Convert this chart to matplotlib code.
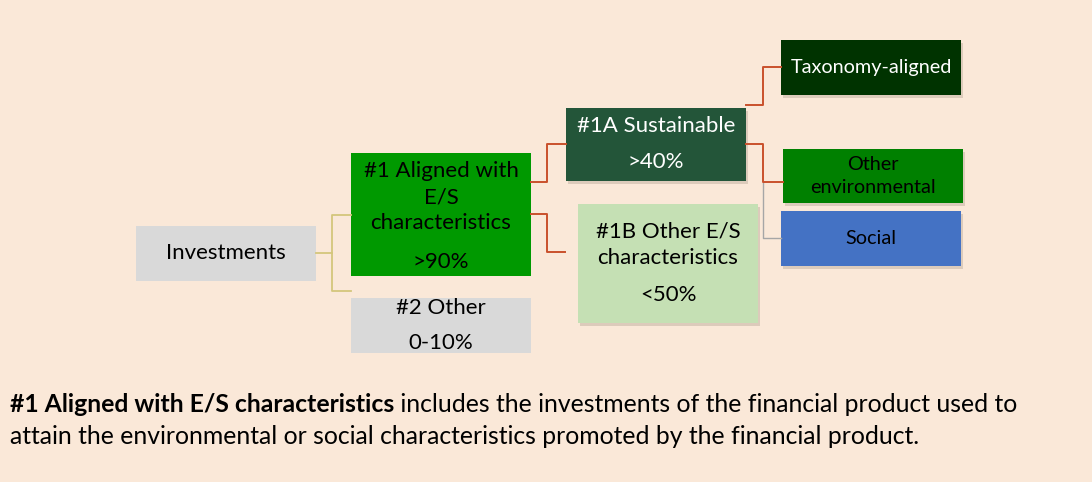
import matplotlib.pyplot as plt
from matplotlib.patches import Rectangle

plt.rcParams['font.family'] = ['Lato', 'DejaVu Sans']

# box content
box_names = ['inv', 'aligned', 'other', 'sust', 'other_es', 'taxo', 'env', 'social']
box_labels = ['Investments', '#1 Aligned with\nE/S\ncharacteristics', '#2 Other',
              '#1A Sustainable', '#1B Other E/S\ncharacteristics',
              'Taxonomy-aligned', 'Other\nenvironmental', 'Social']
box_shares = ['', '>90%', '0-10%', '>40%', '<50%', '', '', '']

footer_bold = '#1 Aligned with E/S characteristics'
footer_rest = ' includes the investments of the financial product used to'
footer_line2 = 'attain the environmental or social characteristics promoted by the financial product.'

# layout in pixels: x0, y0, x1, y1
layout = {
    'inv': (136, 226, 316, 281),
    'aligned': (351, 153, 531, 276),
    'other': (351, 298, 531, 353),
    'sust': (566, 108, 746, 181),
    'other_es': (578, 204, 758, 323),
    'taxo': (781, 40, 961, 95),
    'env': (783, 149, 963, 203),
    'social': (781, 211, 961, 266),
}
fill = {'inv': '#d9d9d9', 'aligned': '#009900', 'other': '#d9d9d9', 'sust': '#235539',
        'other_es': '#c5e0b4', 'taxo': '#003300', 'env': '#008000', 'social': '#4472c4'}
txt_col = {'sust': 'white', 'taxo': 'white'}
shadow = {'sust', 'other_es', 'taxo', 'env', 'social'}
# text y positions (label centre, share centre)
text_y = {
    'inv': (253, None),
    'aligned': (197, 262),
    'other': (308, 343),
    'sust': (126, 162),
    'other_es': (245, 295),
    'taxo': (67, None),
    'env': (176, None),
    'social': (238, None),
}
fsize = {'taxo': 14.3, 'env': 14.3, 'social': 14.3}

bg = '#fae8d8'
fig = plt.figure(figsize=(10.92, 4.82), dpi=100)
fig.patch.set_facecolor(bg)
ax = fig.add_axes([0, 0, 1, 1])
ax.set_xlim(0, 1092)
ax.set_ylim(482, 0)
ax.axis('off')

# connectors
tan = '#d4c67c'
red = '#c9502c'
grey = '#a6a6a6'
ax.plot([316, 332], [253, 253], color=tan, lw=1.3)
ax.plot([351, 332, 332, 351], [215, 215, 291, 291], color=tan, lw=1.3)
ax.plot([531, 547, 547, 566], [182, 182, 144, 144], color=red, lw=1.4)
ax.plot([531, 547, 547, 565], [214, 214, 252, 252], color=red, lw=1.4)
ax.plot([746, 763, 763, 781], [105, 105, 67, 67], color=red, lw=1.4)
ax.plot([763, 763, 781], [182, 238, 238], color=grey, lw=1.0)
ax.plot([746, 763, 763, 783], [144, 144, 182, 182], color=red, lw=1.4)

for i, name in enumerate(box_names):
    x0, y0, x1, y1 = layout[name]
    if name in shadow:
        ax.add_patch(Rectangle((x0 + 2, y0 + 3), x1 - x0, y1 - y0,
                               facecolor='#b8a898', alpha=0.45, lw=0))
    ax.add_patch(Rectangle((x0, y0), x1 - x0, y1 - y0, facecolor=fill[name], lw=0))
    cx = (x0 + x1) / 2
    ly, sy = text_y[name]
    col = txt_col.get(name, 'black')
    fs = fsize.get(name, 16)
    ax.text(cx, ly, box_labels[i], ha='center', va='center', color=col,
            fontsize=fs, linespacing=1.4)
    if sy is not None:
        ax.text(cx, sy, box_shares[i], ha='center', va='center', color=col, fontsize=fs)

# footer with bold lead-in
fs_foot = 17.8
b = ax.text(10, 405, footer_bold, fontsize=fs_foot, fontweight='bold', va='center', ha='left')
fig.canvas.draw()
ext = b.get_window_extent()
x_end = ax.transData.inverted().transform((ext.x1, ext.y0))[0]
ax.text(x_end, 405, footer_rest, fontsize=fs_foot, va='center', ha='left')
ax.text(10, 437, footer_line2, fontsize=fs_foot, va='center', ha='left')

fig.savefig('out.png', dpi=100, facecolor=bg)
